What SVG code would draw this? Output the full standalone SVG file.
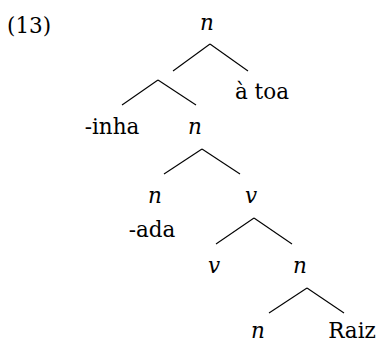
<svg xmlns="http://www.w3.org/2000/svg" width="379" height="343" viewBox="0 0 379 343">
<style>
text{font-family:"DejaVu Serif","Liberation Serif",serif;font-size:21.5px;fill:#000;text-anchor:middle}
.i{font-style:italic}
line{stroke:#000;stroke-width:1.1}
</style>
<rect width="379" height="343" fill="#fff"/>
<text x="7" y="33" style="text-anchor:start">(13)</text>
<g id="n1"><text class="i" x="207" y="30">n</text></g>
<g id="n2"><text x="262" y="99">à toa</text></g>
<g id="n3"><text x="112" y="134">-inha</text></g>
<g id="n4"><text class="i" x="195" y="134">n</text></g>
<g id="n5"><text class="i" x="155" y="203">n</text><text x="152" y="237">-ada</text></g>
<g id="n6"><text class="i" x="251" y="203">v</text></g>
<g id="n7"><text class="i" x="214" y="273">v</text></g>
<g id="n8"><text class="i" x="300" y="273">n</text></g>
<g id="n9"><text class="i" x="258" y="338">n</text></g>
<g id="n10"><text x="352" y="338">Raiz</text></g>
<g id="connectors">
<line x1="210" y1="44" x2="173" y2="71"/><line x1="210" y1="44" x2="248" y2="71"/>
<line x1="158" y1="80" x2="122" y2="105"/><line x1="158" y1="80" x2="196" y2="105"/>
<line x1="202" y1="149" x2="164" y2="174"/><line x1="202" y1="149" x2="240" y2="174"/>
<line x1="254" y1="218" x2="216" y2="244"/><line x1="254" y1="218" x2="292" y2="244"/>
<line x1="307" y1="288" x2="269" y2="313"/><line x1="307" y1="288" x2="344" y2="313"/>
</g>
</svg>
